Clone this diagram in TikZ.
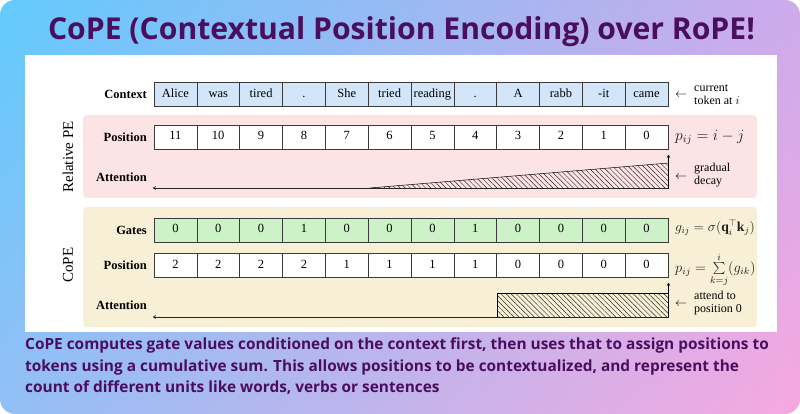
\documentclass[tikz,border=0pt]{standalone}
\usepackage{fontspec}
\setmainfont{Liberation Serif}
\newfontfamily\headfont{Open Sans}
\usetikzlibrary{patterns,patterns.meta,arrows.meta,shadings}
\definecolor{ttl}{HTML}{4A0E5E}
\definecolor{gtl}{HTML}{62CAFC}
\definecolor{gtr}{HTML}{CDAAEB}
\definecolor{gbl}{HTML}{92BFF6}
\definecolor{gbr}{HTML}{F7A8E0}
\definecolor{pinkbg}{HTML}{FDE4E4}
\definecolor{beigebg}{HTML}{F8F0D6}
\definecolor{ctxblue}{HTML}{D3E5F8}
\definecolor{gategreen}{HTML}{CDF2C8}
\definecolor{cellline}{HTML}{3A3A3A}
\definecolor{formula}{HTML}{1E1E1E}
\begin{document}
\begin{tikzpicture}[x=1pt,y=-1pt,
  cell/.style={draw=cellline,line width=0.6pt,minimum width=42.83pt,minimum height=23.5pt,inner sep=0pt,
    text height=8.5pt,text depth=2.5pt,font=\fontsize{12.5}{14}\selectfont},
  rowlab/.style={anchor=east,inner sep=0pt,font=\fontsize{12.5}{14}\selectfont\bfseries},
  note/.style={anchor=west,align=left,inner sep=0pt,font=\fontsize{12}{13}\selectfont},
  arrnote/.style={inner sep=0pt,font=\fontsize{12}{13}\selectfont},
  fml/.style={anchor=west,inner sep=0pt,text=formula,font=\fontsize{12}{13}\selectfont},
  sidelab/.style={rotate=90,inner sep=0pt,font=\fontsize{15}{16}\selectfont},
  region/.style={rounded corners=4pt},
  attline/.style={line width=0.8pt,draw=black!85},
  hatch/.style={pattern={Lines[angle=-45,distance=3.6pt,line width=0.45pt]},pattern color=black!85},
  tip/.style={-{To[length=3pt,width=3.5pt]}},
  bodytxt/.style={anchor=base west,inner sep=0pt,text=ttl,font=\headfont\bfseries\fontsize{15.4}{18}\selectfont}]
\fill[white] (0,0) rectangle (800,414);
\useasboundingbox (0,0) rectangle (800,414);
\shade[upper left=gtl,upper right=gtr,lower left=gbl,lower right=gbr,rounded corners=15pt] (0,0) rectangle (800,414);
\fill[white] (25,55) rectangle (777,332);
% title
\node[anchor=base,inner sep=0pt,text=ttl,font=\headfont\bfseries\fontsize{28}{30}\selectfont] (title) at (401.5,40)
  {\resizebox{707pt}{!}{CoPE (Contextual Position Encoding) over RoPE!}};
% regions
\fill[pinkbg,region] (83,115) rectangle (757,198);
\fill[beigebg,region] (83,207) rectangle (757,327);
\node[sidelab] (relpe) at (68,157) {Relative PE};
\node[sidelab] (cope) at (68,265) {CoPE};
% rows
\foreach \t [count=\k] in {Alice,was,tired,.,She,tried,reading,.,A,rabb,-it,came}
  \node[cell,fill=ctxblue] (c\k) at ({154+(\k-0.5)*42.83},94.5) {\t};
\foreach \t [count=\k] in {11,10,9,8,7,6,5,4,3,2,1,0}
  \node[cell,fill=white,minimum height=24pt] (rp\k) at ({154+(\k-0.5)*42.83},137) {\t};
\foreach \t [count=\k] in {0,0,0,1,0,0,0,1,0,0,0,0}
  \node[cell,fill=gategreen,minimum height=24pt] (g\k) at ({154+(\k-0.5)*42.83},230) {\t};
\foreach \t [count=\k] in {2,2,2,2,1,1,1,1,0,0,0,0}
  \node[cell,fill=white,minimum height=24.5pt] (cp\k) at ({154+(\k-0.5)*42.83},265.5) {\t};
% row labels
\node[rowlab] (lctx) at (147,94.5) {Context};
\node[rowlab] (lrp) at (147,137) {Position};
\node[rowlab] (lra) at (147,177) {Attention};
\node[rowlab] (lg) at (147,230) {Gates};
\node[rowlab] (lcp) at (147,265.5) {Position};
\node[rowlab] (lca) at (147,305) {Attention};
% relative attention
\coordinate (ra0) at (153,188);
\coordinate (ra1) at (668.5,188);
\coordinate (ra2) at (668.5,155);
\coordinate (ws) at (370,188);
\coordinate (wt) at (668.5,163);
\fill[hatch] (ws) -- (wt) -- (ra1) -- cycle;
\draw[line width=0.5pt] (ws) -- (wt);
\draw[attline,tip] (ra1) -- (ra0);
\draw[line width=0.5pt,tip] (ra1) -- (ra2);
% cope attention
\coordinate (ca0) at (153,317);
\coordinate (ca1) at (668.5,317);
\coordinate (ca2) at (668.5,283);
\coordinate (hb) at (497,293);
\draw[line width=0.5pt,hatch] (hb) rectangle (ca1);
\draw[attline,tip] (ca1) -- (ca0);
\draw[line width=0.5pt,tip] (ca1) -- (ca2);
% right notes
\node[arrnote] (a1) at (681,95.5) {$\leftarrow$};
\node[note] (n1) at (694,95) {current\\token at $i$};
\node[fml] (f1) at (675,137.5) {\scalebox{1.3}{$p_{ij} = i - j$}};
\node[arrnote] (a2) at (681,177) {$\leftarrow$};
\node[note] (n2) at (694,175) {gradual\\decay};
\node[fml] (f2) at (675,228) {\scalebox{1.14}{$g_{ij} = \sigma(\mathbf{q}_i^{\top}\mathbf{k}_j)$}};
\node[fml] (f3) at (675,269.5) {\scalebox{1.2}{$p_{ij} = \sum\limits_{k=j}^{i}(g_{ik})$}};
\node[arrnote] (a3) at (681,304) {$\leftarrow$};
\node[note] (n3) at (694,303) {attend to\\position 0};
% bottom text
\node[bodytxt] (b1) at (25,349) {CoPE computes gate values conditioned on the context first, then uses that to assign positions to};
\node[bodytxt] (b2) at (25,371) {tokens using a cumulative sum. This allows positions to be contextualized, and represent the};
\node[bodytxt] (b3) at (25,392) {count of different units like words, verbs or sentences};
\end{tikzpicture}
\end{document}
